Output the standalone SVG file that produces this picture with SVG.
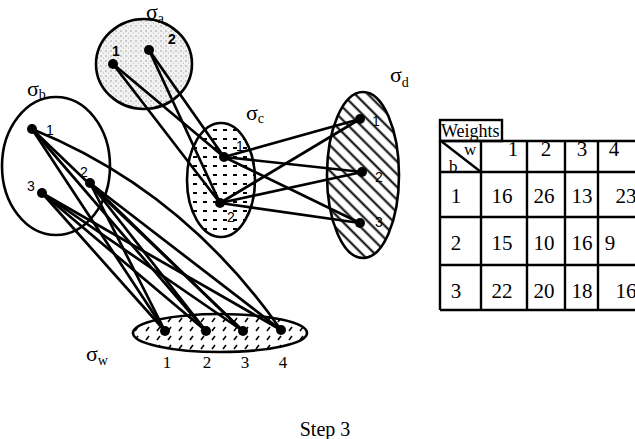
<svg xmlns="http://www.w3.org/2000/svg" width="635" height="439" viewBox="0 0 635 439">
<style>
.edge{stroke:#000;stroke-width:2.7;fill:none;stroke-linecap:round}
.set{stroke:#000;stroke-width:2.6}
.dot{fill:#000}
.lbl{font-family:"Liberation Sans",Arial,sans-serif;font-size:14px;fill:#000;text-anchor:middle}
.lblb{font-family:"Liberation Sans",Arial,sans-serif;font-size:14px;font-weight:bold;fill:#000;text-anchor:middle}
.ser{font-family:"Liberation Serif","Times New Roman",serif;fill:#000}
.sig{font-family:"Liberation Serif","Times New Roman",serif;font-size:22px;fill:#000}
.sub{font-size:14px}
.tline{stroke:#000;stroke-width:2.4;fill:none}
.tnum{font-family:"Liberation Serif","Times New Roman",serif;font-size:21px;fill:#000;text-anchor:middle}
</style>
<defs>
<pattern id="stip" width="5" height="5" patternUnits="userSpaceOnUse">
<rect width="5" height="5" fill="#f2f2f2"/>
<circle cx="1" cy="1" r="0.7" fill="#888"/>
<circle cx="3.5" cy="3" r="0.6" fill="#aaa"/>
</pattern>
<pattern id="dash" width="10" height="9" patternUnits="userSpaceOnUse">
<rect width="10" height="9" fill="#fff"/>
<rect x="3" y="3" width="4" height="2" fill="#000"/>
</pattern>
<pattern id="hatch" width="9" height="9" patternUnits="userSpaceOnUse" patternTransform="rotate(45)">
<rect width="9" height="9" fill="#fff"/>
<line x1="0" y1="4.5" x2="9" y2="4.5" stroke="#000" stroke-width="2"/>
</pattern>
<pattern id="tick" width="11" height="9" patternUnits="userSpaceOnUse">
<rect width="11" height="9" fill="#fff"/>
<line x1="3" y1="7" x2="6" y2="3" stroke="#000" stroke-width="1.6"/>
</pattern>
</defs>
<rect width="635" height="439" fill="#fff"/>

<g id="sigma_a">
<ellipse class="set" cx="144" cy="64" rx="48" ry="45" fill="url(#stip)"/>
<text class="sig" x="146" y="19">σ<tspan class="sub" dy="4">a</tspan></text>
<text class="lblb" x="116" y="56">1</text>
<text class="lblb" x="172" y="44">2</text>
</g>
<g id="sigma_b">
<ellipse class="set" cx="56" cy="166" rx="54" ry="69" fill="none"/>
<text class="sig" x="27" y="96">σ<tspan class="sub" dy="3">b</tspan></text>
<text class="lbl" x="50" y="135">1</text>
<text class="lbl" x="84" y="177">2</text>
<text class="lbl" x="31" y="191">3</text>
</g>
<g id="sigma_c">
<ellipse class="set" cx="221" cy="180" rx="34" ry="57" fill="url(#dash)"/>
<text class="sig" x="246" y="120">σ<tspan class="sub" dy="3">c</tspan></text>
<text class="lbl" x="240" y="151">1</text>
<text class="lbl" x="231" y="222">2</text>
</g>
<g id="sigma_d">
<ellipse class="set" cx="363" cy="175" rx="36" ry="83" fill="url(#hatch)"/>
<text class="sig" x="390" y="82">σ<tspan class="sub" dy="5">d</tspan></text>
<text class="lbl" x="376" y="126">1</text>
<text class="lbl" x="379" y="182">2</text>
<text class="lbl" x="379" y="227">3</text>
</g>
<g id="sigma_w">
<ellipse class="set" cx="220" cy="333" rx="87" ry="19" fill="url(#tick)"/>
<text class="sig" x="86" y="361">σ<tspan class="sub" dy="4">w</tspan></text>
<text class="ser" font-size="17" text-anchor="middle" x="167" y="368">1</text>
<text class="ser" font-size="17" text-anchor="middle" x="207" y="368">2</text>
<text class="ser" font-size="17" text-anchor="middle" x="245" y="368">3</text>
<text class="ser" font-size="17" text-anchor="middle" x="283" y="368">4</text>
</g>

<g id="connectors">
<line class="edge" x1="113" y1="64" x2="224" y2="157"/>
<line class="edge" x1="113" y1="64" x2="220" y2="203"/>
<line class="edge" x1="149" y1="50" x2="224" y2="157"/>
<line class="edge" x1="149" y1="50" x2="220" y2="203"/>
<line class="edge" x1="224" y1="157" x2="360" y2="119"/>
<line class="edge" x1="224" y1="157" x2="362" y2="172"/>
<line class="edge" x1="224" y1="157" x2="360" y2="223"/>
<line class="edge" x1="220" y1="203" x2="360" y2="119"/>
<line class="edge" x1="220" y1="203" x2="362" y2="172"/>
<line class="edge" x1="220" y1="203" x2="360" y2="223"/>
<line class="edge" x1="32" y1="129" x2="165" y2="331"/>
<line class="edge" x1="32" y1="129" x2="206" y2="331"/>
<line class="edge" x1="32" y1="129" x2="243" y2="331"/>
<path class="edge" d="M32 129 Q183 190 281 330"/>
<line class="edge" x1="90" y1="183" x2="165" y2="331"/>
<line class="edge" x1="90" y1="183" x2="206" y2="331"/>
<line class="edge" x1="90" y1="183" x2="243" y2="331"/>
<line class="edge" x1="90" y1="183" x2="281" y2="330"/>
<line class="edge" x1="42" y1="193" x2="165" y2="331"/>
<line class="edge" x1="42" y1="193" x2="206" y2="331"/>
<line class="edge" x1="42" y1="193" x2="243" y2="331"/>
<line class="edge" x1="42" y1="193" x2="281" y2="330"/>
</g>

<g id="nodes">
<circle class="dot" cx="113" cy="64" r="5"/>
<circle class="dot" cx="149" cy="50" r="5"/>
<circle class="dot" cx="32" cy="129" r="5"/>
<circle class="dot" cx="90" cy="183" r="5"/>
<circle class="dot" cx="42" cy="193" r="5"/>
<circle class="dot" cx="224" cy="157" r="5"/>
<circle class="dot" cx="220" cy="203" r="5"/>
<circle class="dot" cx="360" cy="119" r="5"/>
<circle class="dot" cx="362" cy="172" r="5"/>
<circle class="dot" cx="360" cy="223" r="5"/>
<circle class="dot" cx="165" cy="331" r="5"/>
<circle class="dot" cx="206" cy="331" r="5"/>
<circle class="dot" cx="243" cy="331" r="5"/>
<circle class="dot" cx="281" cy="330" r="5"/>
</g>

<g id="weights_table">
<rect class="tline" x="440" y="120" width="62" height="21"/>
<text class="ser" font-size="18" x="441" y="137">Weights</text>
<path class="tline" d="M440 141 H640 M440 172 H640 M440 217 H640 M440 265 H640 M440 310 H640"/>
<path class="tline" d="M440 141 V310 M481 141 V310 M527 141 V310 M565 141 V310 M598 141 V310"/>
<line class="tline" x1="441" y1="141" x2="481" y2="172"/>
<text class="ser" font-size="17" x="464" y="155">w</text>
<text class="ser" font-size="17" x="449" y="172">b</text>
<text class="tnum" x="513" y="156">1</text>
<text class="tnum" x="546" y="156">2</text>
<text class="tnum" x="582" y="156">3</text>
<text class="tnum" x="614" y="156">4</text>
<text class="tnum" x="456" y="203">1</text>
<text class="tnum" x="502" y="203">16</text>
<text class="tnum" x="544" y="203">26</text>
<text class="tnum" x="582" y="203">13</text>
<text class="tnum" x="626" y="203">23</text>
<text class="tnum" x="456" y="250">2</text>
<text class="tnum" x="502" y="250">15</text>
<text class="tnum" x="544" y="250">10</text>
<text class="tnum" x="582" y="250">16</text>
<text class="tnum" x="610" y="250">9</text>
<text class="tnum" x="456" y="298">3</text>
<text class="tnum" x="502" y="298">22</text>
<text class="tnum" x="544" y="298">20</text>
<text class="tnum" x="582" y="298">18</text>
<text class="tnum" x="626" y="298">16</text>
</g>

<text class="ser" font-size="20" text-anchor="middle" x="325" y="436">Step 3</text>
</svg>
